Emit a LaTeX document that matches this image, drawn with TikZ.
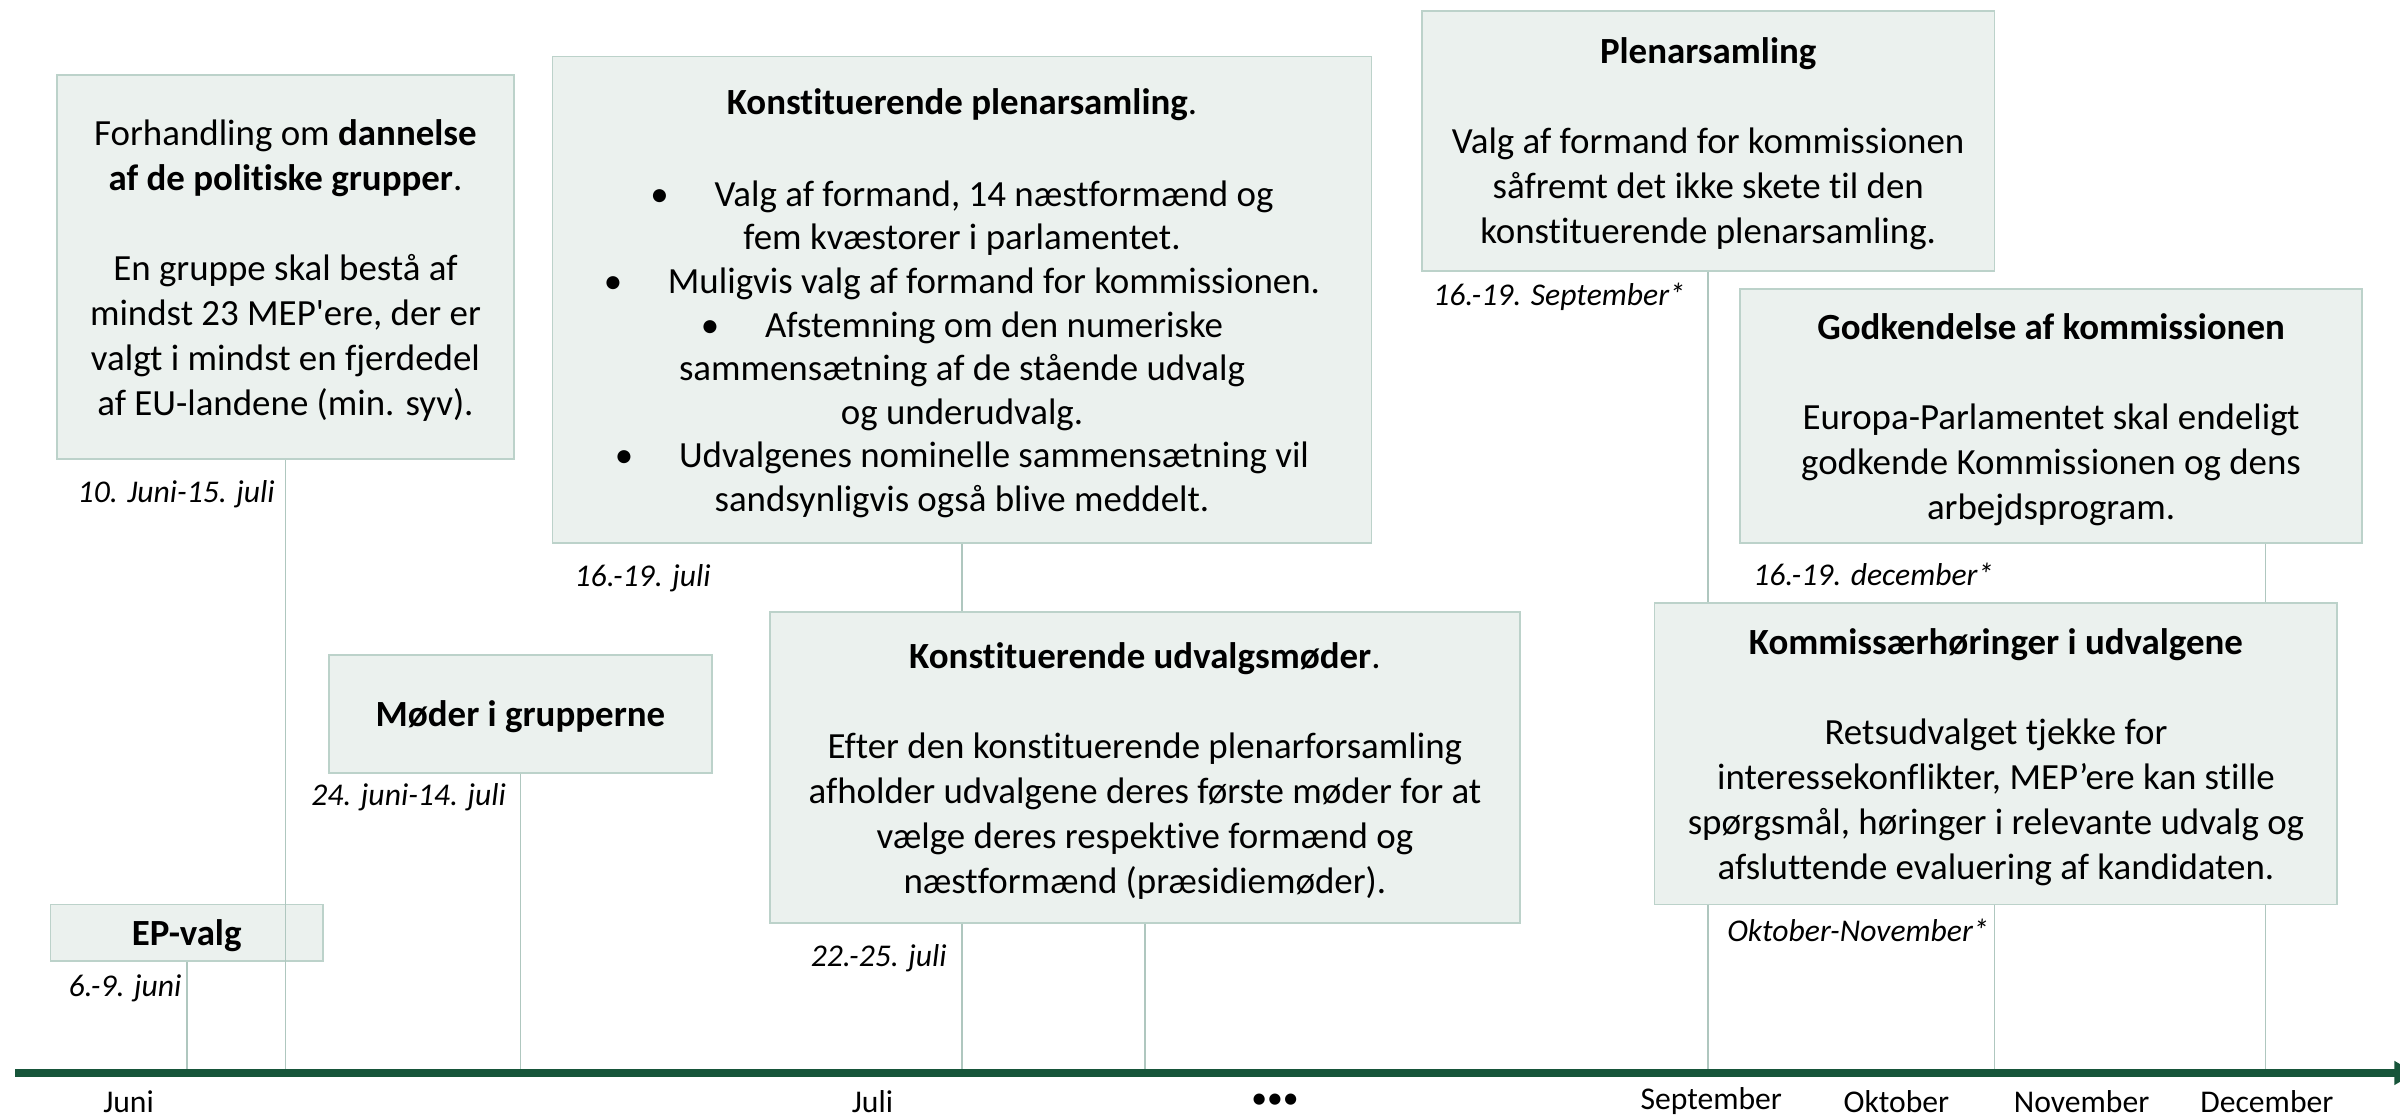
\documentclass[tikz,border=0pt]{standalone}
\usepackage{fontspec}
\setmainfont{Carlito}[Ligatures=NoCommon]
\usetikzlibrary{arrows.meta,positioning}
\definecolor{boxfill}{HTML}{EBF1EE}
\definecolor{boxline}{HTML}{BCD2CA}
\definecolor{stemline}{HTML}{AFC7BF}
\definecolor{axisgreen}{HTML}{17553A}
\tikzset{>=Latex,
  event/.style={draw=boxline,fill=boxfill,line width=.5pt,rectangle,inner sep=0pt,text depth=0pt,
    align=center,font=\fontsize{10.5}{12.8}\selectfont},
  evsize/.style 2 args={minimum width=#1*0.015306cm,minimum height=#2*0.015306cm},
  stem/.style={draw=stemline,line width=.45pt},
  datelbl/.style={font=\fontsize{9}{11}\selectfont\itshape,inner sep=0pt},
  month/.style={font=\fontsize{9}{11}\selectfont,inner sep=0pt},
  timeline/.style={draw=axisgreen,line width=2.2pt,-{Triangle[length=6pt,width=6.5pt]}}}
\newcommand{\bul}{\textbullet\hspace{13pt}}

\begin{document}
\begin{tikzpicture}[x=0.015306cm,y=-0.015306cm]
\useasboundingbox (0,0) rectangle (1568,730);
\clip (0,0) rectangle (1568,730);

% events
\node[event,evsize={299}{251}] (groups) at (186.5,174.5) {Forhandling om \textbf{dannelse}\\
  \textbf{af de politiske grupper}.\\[12.8pt]En gruppe skal bestå af\\mindst 23 MEP\textquotesingle ere, der er\\
  valgt i mindst en fjerdedel\\af EU-landene (min. syv).};
\node[event,evsize={535}{318},font=\fontsize{10.5}{12.4}\selectfont] (constplen) at (628.5,196)
  {\textbf{Konstituerende plenarsamling}.\\[13.7pt]
  \bul Valg af formand, 14 næstformænd og\\fem kvæstorer i parlamentet.\\
  \bul Muligvis valg af formand for kommissionen.\\\bul Afstemning om den numeriske\\
  sammensætning af de stående udvalg\\og underudvalg.\\
  \bul Udvalgenes nominelle sammensætning vil\\sandsynligvis også blive meddelt.};
\node[event,evsize={250}{77}] (groupmeet) at (340,466.5) {\textbf{Møder i grupperne}};
\node[event,evsize={178}{37}] (epvalg) at (122,609.5) {\textbf{EP-valg}};
\node[event,evsize={490}{203}] (constcom) at (748,501.5) {\textbf{Konstituerende udvalgsmøder}.\\[12.8pt]
  Efter den konstituerende plenarforsamling\\afholder udvalgene deres første møder for at\\
  vælge deres respektive formænd og\\næstformænd (præsidiemøder).};
\node[event,evsize={374}{170}] (septplen) at (1116,92) {\textbf{Plenarsamling}\\[12.8pt]
  Valg af formand for kommissionen\\såfremt det ikke skete til den\\konstituerende plenarsamling.};
\node[event,evsize={406}{166}] (approve) at (1340,272) {\textbf{Godkendelse af kommissionen}\\[12.8pt]
  Europa-Parlamentet skal endeligt\\godkende Kommissionen og dens\\arbejdsprogram.};
\node[event,evsize={446}{197}] (hearings) at (1304,492.5) {\textbf{Kommissærhøringer i udvalgene}\\[12.8pt]
  Retsudvalget tjekke for\\interessekonflikter, MEP’ere kan stille\\
  spørgsmål, høringer i relevante udvalg og\\afsluttende evaluering af kandidaten.};

% dates
\node[datelbl,anchor=east] (d-ep) at (119,646) {6.-9. juni};
\node[datelbl,anchor=east] (d-groups) at (180,323) {10. Juni-15. juli};
\node[datelbl,anchor=east] (d-meet) at (331,521) {24. juni-14. juli};
\node[datelbl,anchor=west] (d-plen) at (375,378) {16.-19. juli};
\node[datelbl,anchor=east] (d-com) at (619,626) {22.-25. juli};
\node[datelbl,anchor=west] (d-sept) at (936,194) {16.-19. September*};
\node[datelbl,anchor=west] (d-dec) at (1145,375) {16.-19. december*};
\node[datelbl,anchor=west] (d-hear) at (1128,608) {Oktober-November*};

% stems
\coordinate (ax0) at (10,701);\coordinate (axend) at (1578,701);
\coordinate (t-hear) at (1303,701);\coordinate (t-dec) at (1480,701);
\draw[stem] (epvalg.south) -- (epvalg.south |- ax0);
\draw[stem] (groups.south) -- (groups.south |- ax0);
\draw[stem] (groupmeet.south) -- (groupmeet.south |- ax0);
\draw[stem] (constplen.south) -- (constplen.south |- constcom.north) (constplen.south |- constcom.south) -- (constplen.south |- ax0);
\draw[stem] (constcom.south) -- (constcom.south |- ax0);
\draw[stem] (septplen.south) -- (septplen.south |- hearings.north) (septplen.south |- hearings.south) -- (septplen.south |- ax0);
\draw[stem] (approve.south -| t-dec) -- (hearings.north -| t-dec) (hearings.south -| t-dec) -- (t-dec);
\draw[stem] (hearings.south -| t-hear) -- (t-hear);

% axis
\draw[timeline] (ax0) -- (axend);
\node[month] (m-jun) at (84,719.5) {Juni};
\node[month] (m-jul) at (570,719.5) {Juli};
\node[month] (m-dots) at (833,719.5) {•••};
\node[month] (m-sep) at (1118,719.5) {September};
\node[month] (m-okt) at (1239,719.5) {Oktober};
\node[month] (m-nov) at (1360,719.5) {November};
\node[month] (m-dec) at (1481,719.5) {December};
\end{tikzpicture}
\end{document}
